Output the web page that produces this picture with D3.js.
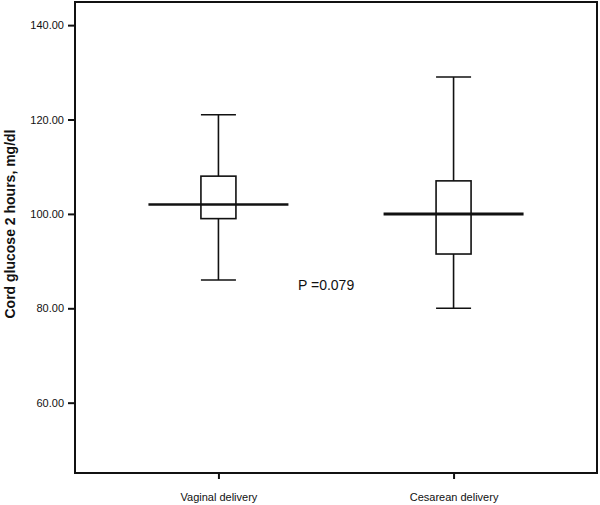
<!DOCTYPE html>
<html lang="en">
	<head>
		<meta charset="utf-8">
		<title>Cord glucose box plot</title>
		<script src="https://cdn.jsdelivr.net/npm/d3@7"></script>
		<style type="text/css">
			body { margin: 0; background: #fff; }
			text { font-family: Arial, "Liberation Sans", sans-serif; fill: #111; }
		</style>
	</head>
	<body>
		<script type="text/javascript">

			// data
			var groups = ["Vaginal delivery", "Cesarean delivery"];
			var whiskerLow = [86, 80];
			var q1 = [99, 91.5];
			var median = [102, 100];
			var q3 = [108, 107];
			var whiskerHigh = [121, 129];
			var yTicks = [60, 80, 100, 120, 140];
			var pLabel = "P =0.079";

			//Width and height
			var w = 600;
			var h = 505;
			var margin = {top: 2, right: 3, bottom: 32, left: 75};

			var svg = d3.select("body")
						.append("svg")
						.attr("width", w)
						.attr("height", h);

			var xScale = d3.scalePoint()
						   .domain(groups)
						   .range([margin.left, w - margin.right])
						   .padding(0.61);

			var yScale = d3.scaleLinear()
						   .domain([45.1, 144.9])
						   .range([h - margin.bottom, margin.top]);

			var boxW = 35;
			var medW = 70;

			var dataset = groups.map(function(g, i) {
				return {name: g, lo: whiskerLow[i], q1: q1[i], med: median[i], q3: q3[i], hi: whiskerHigh[i], medStroke: i == 0 ? 2.5 : 3};
			});

			//Y axis
			var yAxis = d3.axisLeft(yScale)
						  .tickValues(yTicks)
						  .tickSize(7)
						  .tickPadding(4)
						  .tickFormat(d3.format(".2f"));

			var gy = svg.append("g")
						.attr("transform", "translate(" + margin.left + ",0)")
						.call(yAxis);
			gy.select(".domain").remove();
			gy.selectAll(".tick line").attr("stroke", "#111").attr("stroke-width", 2);
			gy.selectAll(".tick text")
			  .attr("font-size", "11px")
			  .attr("font-family", "Arial, 'Liberation Sans', sans-serif")
			  .attr("fill", "#111");

			//X axis
			var xAxis = d3.axisBottom(xScale)
						  .tickSize(6)
						  .tickPadding(14);
			var gx = svg.append("g")
						.attr("transform", "translate(0," + (h - margin.bottom) + ")")
						.call(xAxis);
			gx.select(".domain").remove();
			gx.selectAll(".tick line").attr("stroke", "#111").attr("stroke-width", 2);
			gx.selectAll(".tick text")
			  .attr("font-size", "11px")
			  .attr("font-family", "Arial, 'Liberation Sans', sans-serif")
			  .attr("fill", "#111");

			//Frame
			svg.append("rect")
			   .attr("x", margin.left)
			   .attr("y", margin.top)
			   .attr("width", w - margin.left - margin.right)
			   .attr("height", h - margin.top - margin.bottom)
			   .attr("fill", "none")
			   .attr("stroke", "#111")
			   .attr("stroke-width", 2);

			//Boxes
			var box = svg.selectAll("g.box")
						 .data(dataset)
						 .enter()
						 .append("g")
						 .attr("class", "box");

			box.append("line")
			   .attr("x1", function(d) { return xScale(d.name); })
			   .attr("x2", function(d) { return xScale(d.name); })
			   .attr("y1", function(d) { return yScale(d.hi); })
			   .attr("y2", function(d) { return yScale(d.lo); })
			   .attr("stroke", "#111")
			   .attr("stroke-width", 1.6);

			box.append("line")
			   .attr("x1", function(d) { return xScale(d.name) - boxW / 2; })
			   .attr("x2", function(d) { return xScale(d.name) + boxW / 2; })
			   .attr("y1", function(d) { return yScale(d.hi); })
			   .attr("y2", function(d) { return yScale(d.hi); })
			   .attr("stroke", "#111")
			   .attr("stroke-width", 1.6);

			box.append("line")
			   .attr("x1", function(d) { return xScale(d.name) - boxW / 2; })
			   .attr("x2", function(d) { return xScale(d.name) + boxW / 2; })
			   .attr("y1", function(d) { return yScale(d.lo); })
			   .attr("y2", function(d) { return yScale(d.lo); })
			   .attr("stroke", "#111")
			   .attr("stroke-width", 1.6);

			box.append("rect")
			   .attr("x", function(d) { return xScale(d.name) - boxW / 2; })
			   .attr("y", function(d) { return yScale(d.q3); })
			   .attr("width", boxW)
			   .attr("height", function(d) { return yScale(d.q1) - yScale(d.q3); })
			   .attr("fill", "#fff")
			   .attr("stroke", "#111")
			   .attr("stroke-width", 1.6);

			box.append("line")
			   .attr("x1", function(d) { return xScale(d.name) - medW; })
			   .attr("x2", function(d) { return xScale(d.name) + medW; })
			   .attr("y1", function(d) { return yScale(d.med); })
			   .attr("y2", function(d) { return yScale(d.med); })
			   .attr("stroke", "#111")
			   .attr("stroke-width", function(d) { return d.medStroke; });

			//P value note
			svg.append("text")
			   .attr("x", 298)
			   .attr("y", 290)
			   .attr("font-size", "14px")
			   .text(pLabel);

			//Y title
			svg.append("text")
			   .attr("transform", "translate(15,224) rotate(-90)")
			   .attr("text-anchor", "middle")
			   .attr("font-size", "14px")
			   .attr("font-weight", "bold")
			   .text("Cord glucose 2 hours, mg/dl");

		</script>
	</body>
</html>
